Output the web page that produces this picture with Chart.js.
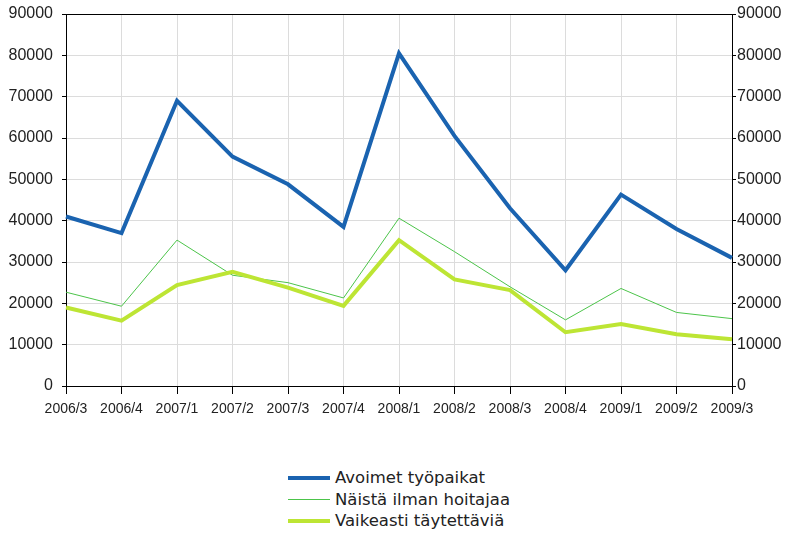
<!DOCTYPE html>
<html>
<head>
<meta charset="utf-8">
<script src="https://cdn.jsdelivr.net/npm/chart.js@4"></script>
<style>
  body { margin: 0; background: #fff; font-family: "Liberation Sans", Arial, sans-serif; }
  #wrap { position: relative; width: 787px; height: 430px; }
  #legend { position: absolute; left: 288px; top: 467px; }
  .row { height: 21.5px; display: flex; align-items: center; font-family: "DejaVu Sans", sans-serif; font-size: 16.5px; color: #222; }
  .sw { width: 42px; margin-right: 5px; }
</style>
</head>
<body>
<div id="wrap"><canvas id="js--chart" width="787" height="430"></canvas></div>
<div id="legend"></div>
<script>
const labels = ["2006/3", "2006/4", "2007/1", "2007/2", "2007/3", "2007/4", "2008/1",
                "2008/2", "2008/3", "2008/4", "2009/1", "2009/2", "2009/3"];

const avoimet = [41000, 37000, 69000, 55500, 48800, 38500, 80500, 60500, 43000, 28000, 46300, 38000, 31000];
const ilmanHoitajaa = [22700, 19300, 35300, 26800, 25000, 21300, 40600, 32500, 24000, 16000, 23600, 17800, 16300];
const vaikeasti = [19000, 15800, 24400, 27600, 23800, 19400, 35300, 25800, 23200, 13000, 15000, 12500, 11300];

const seriesNames = ["Avoimet työpaikat", "Näistä ilman hoitajaa", "Vaikeasti täytettäviä"];

// frame round the plot area (top line too)
const framePlugin = {
    id: "frame",
    afterDraw(chart) {
        const a = chart.chartArea;
        const ctx = chart.ctx;
        ctx.save();
        ctx.strokeStyle = "#000";
        ctx.lineWidth = 1;
        ctx.beginPath();
        ctx.moveTo(a.left, a.top + 0.5);
        ctx.lineTo(a.right, a.top + 0.5);
        ctx.stroke();
        ctx.restore();
    }
};

const datasets = [
    { label: seriesNames[0], data: avoimet, borderColor: "#1a63b0", borderWidth: 4, order: 0 },
    { label: seriesNames[1], data: ilmanHoitajaa, borderColor: "#4cc44a", borderWidth: 1, order: 2 },
    { label: seriesNames[2], data: vaikeasti, borderColor: "#bde534", borderWidth: 4, order: 1 }
];
datasets.forEach(function (d) {
    d.pointRadius = 0;
    d.tension = 0;
    d.fill = false;
});

const yTicks = { font: { size: 16, family: "Liberation Sans" }, color: "#222", stepSize: 10000,
                 callback: function (v) { return String(v); } };

new Chart(document.getElementById("js--chart"), {
    type: "line",
    data: { labels: labels, datasets: datasets },
    options: {
        responsive: false,
        animation: false,
        layout: { padding: { top: 14, left: 0, right: 0, bottom: 0 } },
        plugins: { legend: { display: false }, tooltip: { enabled: false } },
        scales: {
            x: {
                offset: false,
                grid: { color: "#dcdcdc", tickColor: "#000", tickLength: 8 },
                border: { color: "#000" },
                ticks: { font: { size: 14, family: "Liberation Sans" }, color: "#222", maxRotation: 0, autoSkip: false, padding: 7 },
                afterFit: function (s) { s.height = 44; s.paddingLeft = 0; s.paddingRight = 0; }
            },
            y: {
                position: "left",
                min: 0, max: 90000,
                grid: { color: "#dcdcdc", tickColor: "#000", tickLength: 4 },
                border: { color: "#000" },
                ticks: Object.assign({ padding: 9 }, yTicks),
                afterFit: function (s) { s.width = 66; s.paddingTop = 0; s.paddingBottom = 0; }
            },
            y2: {
                position: "right",
                min: 0, max: 90000,
                grid: { drawOnChartArea: false, tickColor: "#000", tickLength: 4 },
                border: { color: "#000" },
                ticks: Object.assign({ padding: 1 }, yTicks),
                afterFit: function (s) { s.width = 55; s.paddingTop = 0; s.paddingBottom = 0; }
            }
        }
    },
    plugins: [framePlugin]
});

// legend below the chart, one row per series
const legend = document.getElementById("legend");
datasets.forEach(function (d) {
    const row = document.createElement("div");
    row.className = "row";
    const sw = document.createElement("span");
    sw.className = "sw";
    sw.style.borderTop = d.borderWidth + "px solid " + d.borderColor;
    row.appendChild(sw);
    row.appendChild(document.createTextNode(d.label));
    legend.appendChild(row);
});
</script>
</body>
</html>
